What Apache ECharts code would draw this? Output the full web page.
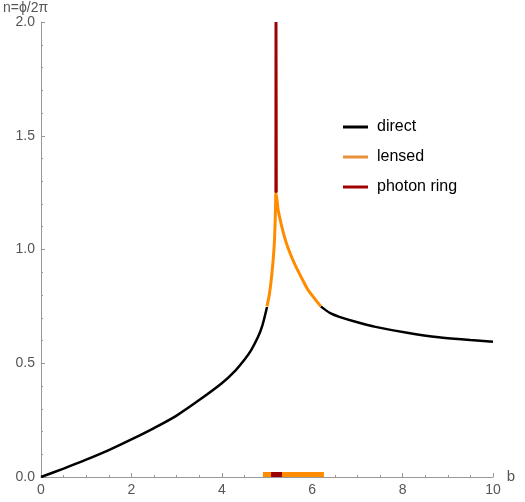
<!DOCTYPE html>
<html><head><meta charset="utf-8">
<script src="https://cdn.jsdelivr.net/npm/echarts@6/dist/echarts.min.js"></script>
<style>html,body{margin:0;padding:0;background:#fff}#c{width:525px;height:502px}</style>
</head><body><div id="c"></div>
<script>
// direct emission (two branches)
var directA = [[0,0],[0.5,0.037],[1,0.076],[1.5,0.118],[2,0.165],[2.5,0.215],[3,0.27],[3.5,0.338],[4,0.412],[4.3,0.468],[4.5,0.515],[4.65,0.558],[4.8,0.615],[4.9,0.668],[5.0,0.747]];
var directB = [[6.19,0.75],[6.4,0.72],[6.6,0.704],[7.0,0.68],[7.4,0.66],[8.1,0.634],[8.8,0.614],[9.5,0.602],[10,0.594]];
// lensed
var lensed = [[5.0,0.75],[5.05,0.8],[5.09,0.86],[5.13,0.94],[5.16,1.02],[5.18,1.12],[5.19,1.2],[5.197,1.25],[5.205,1.25],[5.22,1.22],[5.25,1.17],[5.31,1.115],[5.38,1.06],[5.46,1.01],[5.57,0.955],[5.68,0.908],[5.8,0.862],[5.9,0.825],[6.05,0.785],[6.19,0.75]];
// photon ring
var photon = [[5.197,1.25],[5.198,1.6],[5.199,2.0],[5.201,2.0],[5.203,1.6],[5.205,1.25]];
// ring extents on the b axis
var lensedBand = [4.91, 6.26];
var photonBand = [5.09, 5.33];
var xTicks = [0,2,4,6,8,10];
var yTicks = [0.0,0.5,1.0,1.5,2.0];

var chart = echarts.init(document.getElementById('c'), null, {renderer:'canvas'});
var axisCol = '#999999', labCol = '#555555', font = 'Liberation Sans';
var bandH = 0.022;
chart.setOption({
  animation:false,
  grid:{left:39,right:32,top:22,bottom:25,containLabel:false},
  legend:{
    orient:'vertical', left:338, top:113, icon:'rect', itemWidth:25, itemHeight:3, itemGap:12,
    textStyle:{fontFamily:font, fontSize:16, color:'#000', lineHeight:18, padding:[0,0,0,4]},
    data:['direct','lensed','photon ring']
  },
  xAxis:{
    type:'value', min:0, max:10, interval:2, name:'b', nameLocation:'end', nameGap:8,
    nameTextStyle:{fontFamily:font, fontSize:15, color:labCol, verticalAlign:'middle', padding:[0,0,0,0]},
    axisLine:{lineStyle:{color:axisCol,width:1}},
    axisTick:{inside:true,length:4,lineStyle:{color:axisCol}},
    minorTick:{show:true,splitNumber:4,length:2,lineStyle:{color:axisCol}},
    splitLine:{show:false},
    axisLabel:{fontFamily:font,fontSize:14,color:labCol,margin:6,
      formatter:function(v){return xTicks.indexOf(v)>=0?String(v):'';}}
  },
  yAxis:{
    type:'value', min:0, max:2, interval:0.5, name:'n=\u03d5/2\u03c0', nameLocation:'end', nameGap:7,
    nameTextStyle:{fontFamily:font, fontSize:14, color:labCol, align:'left', padding:[0,0,0,-38]},
    axisLine:{show:true,lineStyle:{color:axisCol,width:1}},
    axisTick:{show:true,inside:true,length:4,lineStyle:{color:axisCol}},
    minorTick:{show:true,splitNumber:5,length:2,lineStyle:{color:axisCol}},
    splitLine:{show:false},
    axisLabel:{fontFamily:font,fontSize:14,color:labCol,margin:6,
      formatter:function(v){return v.toFixed(1);}}
  },
  series:[
    {name:'direct',type:'line',data:directA.concat([[5.5,null]],directB),connectNulls:false,
     smooth:0.3,
     showSymbol:false,symbol:'none',lineStyle:{color:'#000',width:2.5},itemStyle:{color:'#000'},z:3},
    {name:'lensed',type:'line',data:lensed,showSymbol:false,symbol:'none',smooth:0.3,
     lineStyle:{color:'#FF8C00',width:3},itemStyle:{color:'#E8913A'},z:4,
     markArea:{silent:true,itemStyle:{color:'#FF8C00',opacity:1},
       data:[[{coord:[lensedBand[0],0]},{coord:[lensedBand[1],bandH]}]]}},
    {name:'photon ring',type:'line',data:photon,showSymbol:false,symbol:'none',
     lineStyle:{color:'#A00000',width:3},itemStyle:{color:'#A00000'},z:5,
     markArea:{silent:true,itemStyle:{color:'#990000',opacity:1},
       data:[[{coord:[photonBand[0],0]},{coord:[photonBand[1],bandH]}]]}}
  ]
});
</script></body></html>
